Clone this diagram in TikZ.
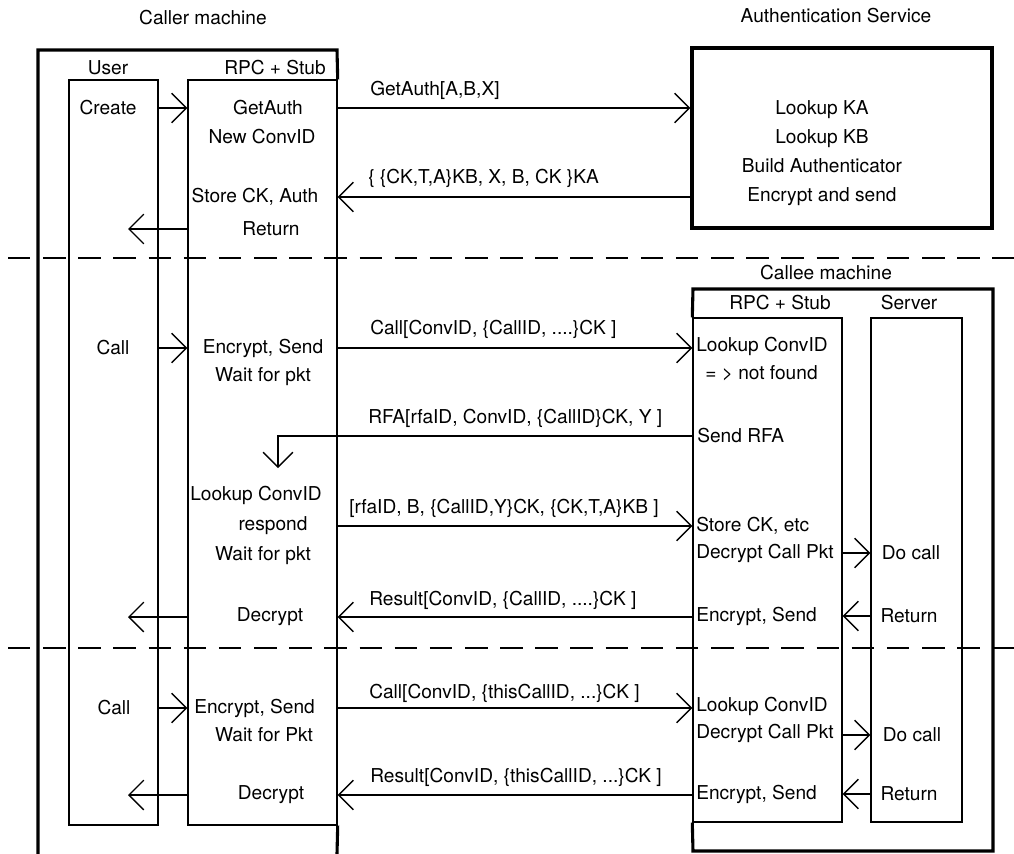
\documentclass[tikz,border=0pt]{standalone}
\usepackage{fontspec}
\setmainfont{TeX Gyre Heros}
\usetikzlibrary{arrows.meta,positioning,fit,calc}

\begin{document}
\begin{tikzpicture}[x=0.025cm, y=-0.025cm,
    font=\fontsize{13.6}{16}\selectfont,
    lane/.style={draw, line width=1pt, inner sep=0pt},
    frame/.style={line width=2.2pt},
    arr/.style={-{Straight Barb[length=10.5pt, width=21pt]}, line width=1pt},
    txt/.style={inner sep=0pt},
    msg/.style={inner sep=0pt, anchor=west},
    sep/.style={line width=1pt, dash pattern=on 16pt off 9pt}
  ]
  \useasboundingbox (0,0) rectangle (1014,854);

  % headings
  \node[txt] (hcaller) at (203,18) {Caller machine};
  \node[txt] (hauth) at (836,16) {Authentication Service};
  \node[txt] (hcallee) at (826,273) {Callee machine};
  \node[txt] (huser) at (108,68) {User};
  \node[txt] (hcrpc) at (275,68) {RPC + Stub};
  \node[txt] (hsrpc) at (780,303) {RPC + Stub};
  \node[txt] (hserver) at (909,303) {Server};

  % lanes
  \node[lane, fit={(69,80) (158,825)}] (user) {};
  \node[lane, fit={(188,80) (337,825)}] (crpc) {};
  \node[lane, fit={(693,318) (842,822)}] (srpc) {};
  \node[lane, fit={(871,318) (962,822)}] (server) {};
  \node[lane, frame, fit={(692,48) (992,228)}] (auth) {};

  % machine frames
  \draw[frame] (38,854) -- (38,50) -- (337,50) -- (crpc.north east);
  \draw[frame] (crpc.south east) -- (337,854);
  \draw[frame] (srpc.north west) -- (693,289) -- (993,289) -- (993,851)
    -- (693,851) -- (srpc.south west);

  % phase separators
  \draw[sep] (8,258) -- (1014,258);
  \draw[sep] (8,648) -- (1014,648);

  % phase 1: get authenticator
  \node[txt] (create) at (108,108) {Create};
  \node[txt] (getauth) at (268,108) {GetAuth};
  \node[txt] (newconv) at (262,137) {New ConvID};
  \node[txt] (storeck) at (255,197) {Store CK, Auth};
  \node[txt] (ret0) at (271,229) {Return};
  \node[inner sep=0pt, align=center, font=\fontsize{13.6}{20.6}\selectfont]
    (authtxt) at (822,153) {Lookup KA\\Lookup KB\\Build Authenticator\\Encrypt and send};
  \node[msg] (mgetauth) at (370,90) {GetAuth[A,B,X]};
  \node[msg] (mkeys) at (368,178) {\{ \{CK,T,A\}KB, X, B, CK \}KA};
  \coordinate (back0) at (128,229);

  \draw[arr] (user.east |- create) -- (crpc.west |- create);
  \draw[arr] (crpc.east |- getauth) -- (auth.west |- getauth);
  \draw[arr] (auth.west |- storeck) -- (crpc.east |- storeck);
  \draw[arr] (crpc.west |- ret0) -- (back0);

  % phase 2: first call, callee asks for authenticator
  \node[txt] (call1) at (113,348) {Call};
  \node[txt] (enc1) at (263,348) {Encrypt, Send};
  \node[txt] (wait1) at (263,377) {Wait for pkt};
  \node[msg] (mcall1) at (370,329) {Call[ConvID, \{CallID, ....\}CK ]};
  \node[msg] (lookup1) at (696,346) {Lookup ConvID};
  \node[msg] (notfound) at (705,373) {= > not found};
  \node[msg] (sendrfa) at (697,436) {Send RFA};
  \node[msg] (mrfa) at (368,418) {RFA[rfaID, ConvID, \{CallID\}CK, Y ]};
  \coordinate (rfatip) at (278,468);
  \node[msg] (lookup2) at (190,495) {Lookup ConvID};
  \node[txt] (respond) at (273,526) {respond};
  \node[txt] (wait2) at (263,556) {Wait for pkt};
  \node[msg] (mrfaid) at (349,508) {[rfaID, B, \{CallID,Y\}CK, \{CK,T,A\}KB ]};
  \node[msg] (storeetc) at (696,526) {Store CK, etc};
  \node[msg] (decpkt1) at (696,553) {Decrypt Call Pkt};
  \node[txt] (docall1) at (911,553) {Do call};
  \node[msg] (senc1) at (696,616) {Encrypt, Send};
  \node[txt] (ret1) at (909,616) {Return};
  \node[txt] (dec1) at (270,617) {Decrypt};
  \node[msg] (mres1) at (369,600) {Result[ConvID, \{CallID, ....\}CK ]};
  \coordinate (back1) at (128,617);

  \draw[arr] (user.east |- call1) -- (crpc.west |- call1);
  \draw[arr] (crpc.east |- enc1) -- (srpc.west |- enc1);
  \draw[arr] (srpc.west |- sendrfa) -| (rfatip);
  \draw[arr] (crpc.east |- respond) -- (srpc.west |- respond);
  \draw[arr] (srpc.east |- docall1) -- (server.west |- docall1);
  \draw[arr] (server.west |- ret1) -- (srpc.east |- ret1);
  \draw[arr] (srpc.west |- dec1) -- (crpc.east |- dec1);
  \draw[arr] (crpc.west |- dec1) -- (back1);

  % phase 3: later call on the same conversation
  \node[txt] (call2) at (114,708) {Call};
  \node[msg] (enc2) at (194,708) {Encrypt, Send};
  \node[txt] (wait3) at (264,735) {Wait for Pkt};
  \node[msg] (mcall2) at (369,693) {Call[ConvID, \{thisCallID, ...\}CK ]};
  \node[msg] (lookup3) at (696,706) {Lookup ConvID};
  \node[msg] (decpkt2) at (696,733) {Decrypt Call Pkt};
  \node[txt] (docall2) at (912,735) {Do call};
  \node[msg] (senc2) at (696,794) {Encrypt, Send};
  \node[txt] (ret2) at (909,794) {Return};
  \node[txt] (dec2) at (271,795) {Decrypt};
  \node[msg] (mres2) at (370,777) {Result[ConvID, \{thisCallID, ...\}CK ]};
  \coordinate (back2) at (128,795);

  \draw[arr] (user.east |- call2) -- (crpc.west |- call2);
  \draw[arr] (crpc.east |- enc2) -- (srpc.west |- enc2);
  \draw[arr] (srpc.east |- docall2) -- (server.west |- docall2);
  \draw[arr] (server.west |- ret2) -- (srpc.east |- ret2);
  \draw[arr] (srpc.west |- dec2) -- (crpc.east |- dec2);
  \draw[arr] (crpc.west |- dec2) -- (back2);
\end{tikzpicture}
\end{document}
